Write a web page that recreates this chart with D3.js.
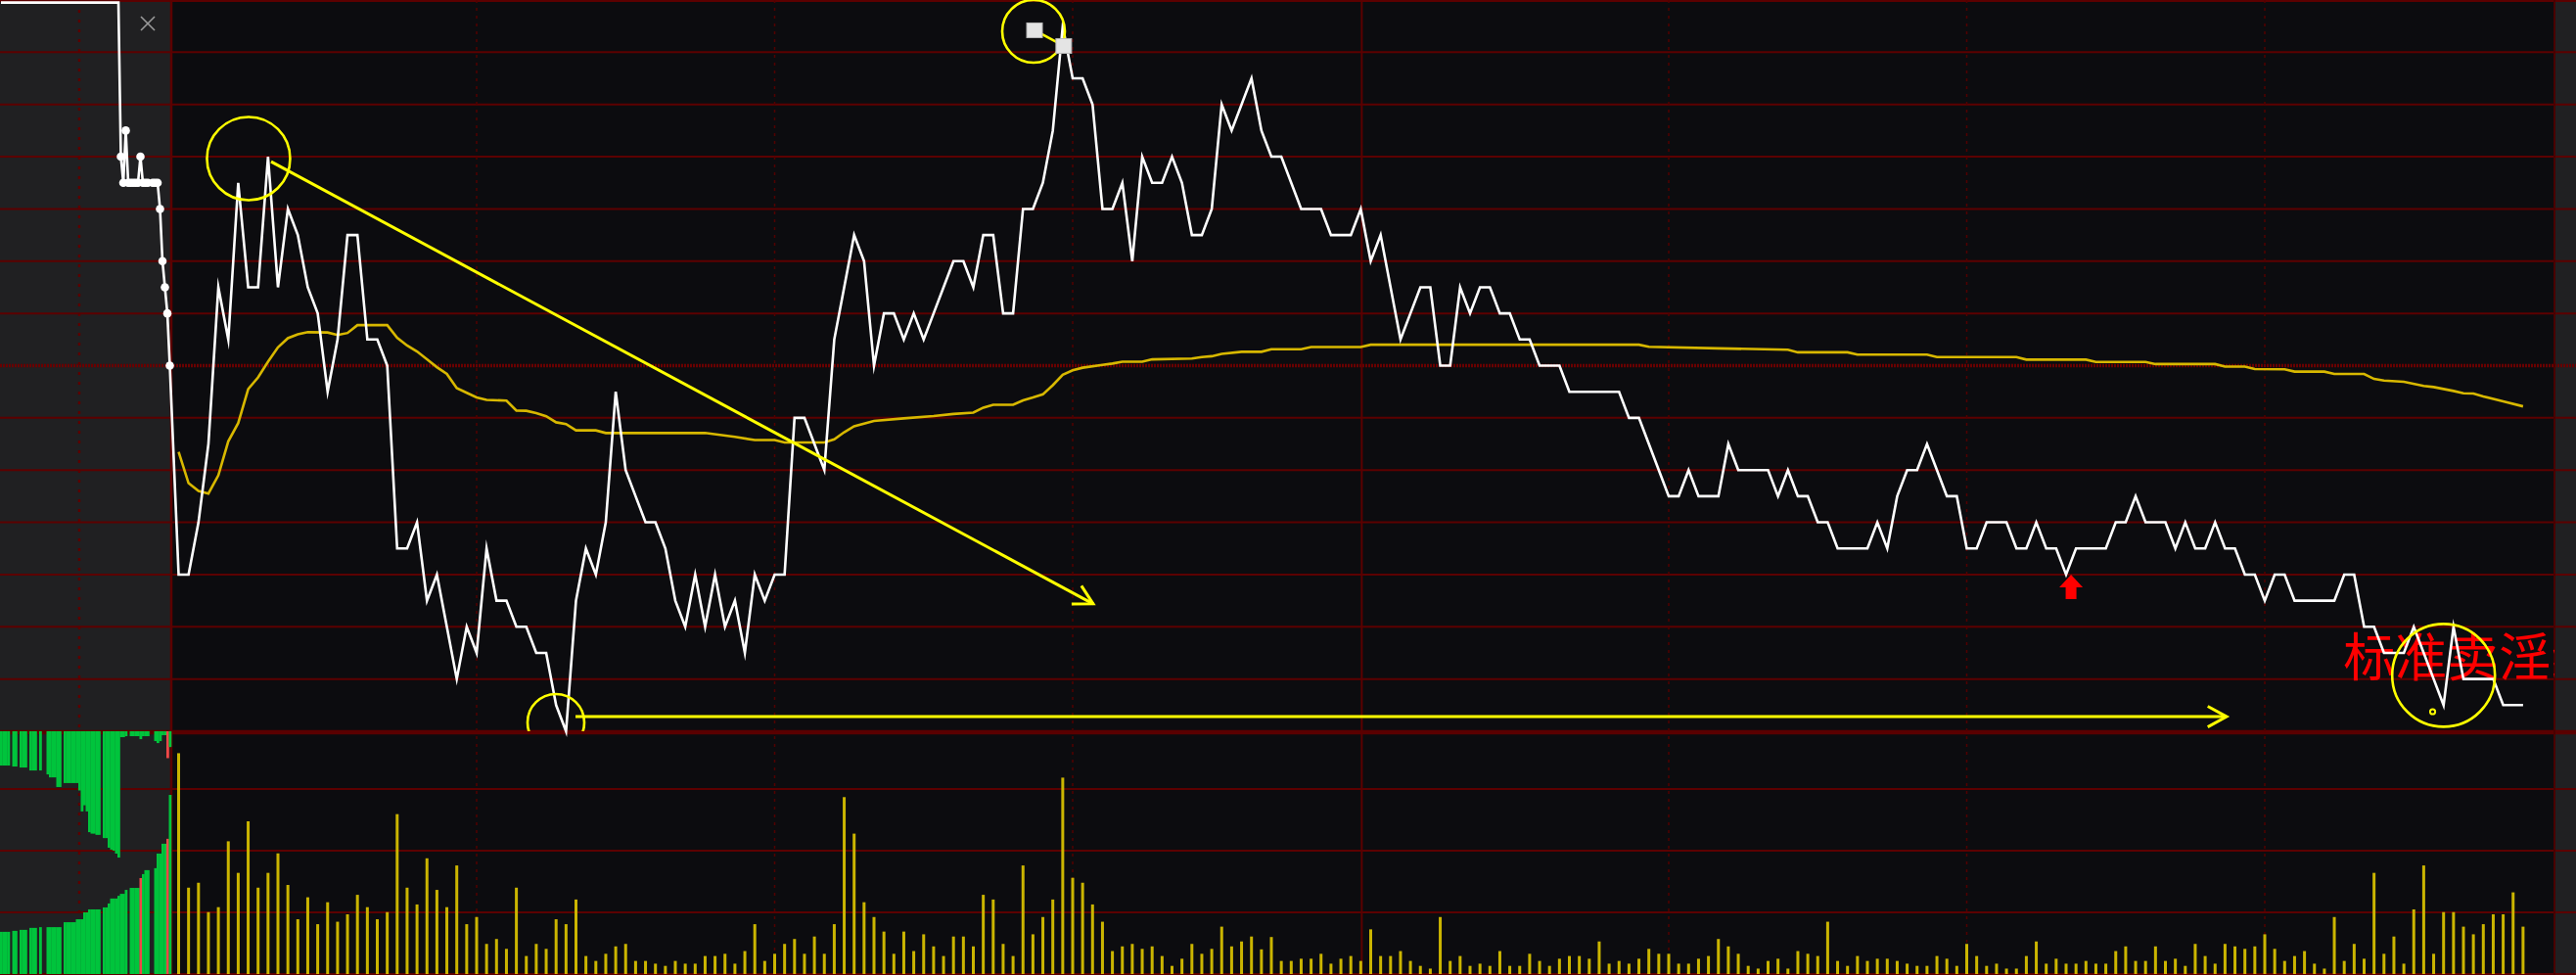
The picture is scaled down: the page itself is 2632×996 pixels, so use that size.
<!DOCTYPE html>
<html><head><meta charset="utf-8">
<script src="https://cdn.jsdelivr.net/npm/d3@7/dist/d3.min.js"></script>
<style>html,body{margin:0;padding:0;background:#0c0c0f;overflow:hidden}</style>
</head><body>
<svg id="c" width="2632" height="996"></svg>
<script>
// ---- price (ticks vs previous close), one value per minute ----
const priceTicks = [
-8,-8,-6,-3,3,1,7,3,3,8, 3,6,5,3,2,-1,1,5,5,1, 1,0,-7,-7,-6,-9,-8,-10,-12,-10,
-11,-7,-9,-9,-10,-10,-11,-11,-13,-14, -9,-7,-8,-6,-1,-4,-5,-6,-6,-7, -9,-10,-8,-10,-8,-10,-9,-11,-8,-9,
-8,-8,-2,-2,-3,-4,1,3,5,4, 0,2,2,1,2,1,2,3,4,4, 3,5,5,2,2,6,6,7,9,13,
11,11,10,6,6,7,4,8,7,7, 8,7,5,5,6,10,9,10,11,9, 8,8,7,6,6,6,5,5,5,6,
4,5,3,1,2,3,3,0,0,3, 2,3,3,2,2,1,1,0,0,0, -1,-1,-1,-1,-1,-1,-2,-2,-3,-4,
-5,-5,-4,-5,-5,-5,-3,-4,-4,-4, -4,-5,-4,-5,-5,-6,-6,-7,-7,-7, -7,-6,-7,-5,-4,-4,-3,-4,-5,-5,
-7,-7,-6,-6,-6,-7,-7,-6,-7,-7, -8,-7,-7,-7,-7,-6,-6,-5,-6,-6, -6,-7,-6,-7,-7,-6,-7,-7,-8,-8,
-9,-8,-8,-9,-9,-9,-9,-9,-8,-8, -10,-10,-11,-11,-11,-10,-11,-12,-13,-10, -12,-12,-12,-12,-13,-13,-13
];
// ---- average price line, read points (minute index, ticks) ----
const avgIdx = [0,1,2,3,4,5,6,7,8,9,10,11,12,13,15,16,17,18,21,22,23,24,25,26,27,28,29,30,31,33,34,35,36,37,38,39,40,42,43,53,56,58,60,61,65,66,67,68,70,73,76,78,80,81,82,84,85,86,87,88,89,90,91,93,94,95,97,98,102,103,104,105,107,109,110,113,114,119,120,147,148,155,162,163,168,169,176,177,185,186,192,193,198,199,205,206,208,209,212,213,216,217,220,221,222,224,226,227,229,230,231,232,234,236];
const avgVal = [-3.3,-4.5,-4.8,-4.9,-4.2,-2.9,-2.2,-0.9,-0.45,0.15,0.7,1.05,1.2,1.28,1.27,1.17,1.25,1.55,1.55,1.07,0.77,0.54,0.24,-0.06,-0.32,-0.86,-1.04,-1.22,-1.31,-1.34,-1.72,-1.73,-1.82,-1.94,-2.17,-2.24,-2.48,-2.48,-2.58,-2.58,-2.73,-2.85,-2.85,-2.94,-2.94,-2.82,-2.55,-2.32,-2.12,-2.02,-1.93,-1.85,-1.8,-1.61,-1.5,-1.5,-1.33,-1.22,-1.1,-0.75,-0.35,-0.18,-0.08,0.03,0.08,0.15,0.15,0.24,0.27,0.33,0.36,0.45,0.53,0.53,0.63,0.63,0.71,0.71,0.8,0.8,0.72,0.66,0.61,0.51,0.51,0.42,0.42,0.33,0.33,0.23,0.23,0.14,0.14,0.06,0.06,-0.04,-0.04,-0.13,-0.14,-0.23,-0.23,-0.32,-0.32,-0.51,-0.57,-0.62,-0.78,-0.82,-0.97,-1.06,-1.07,-1.18,-1.37,-1.56];
// ---- volume per minute ----
const volume = [
89.5,35,37,25.1,27.1,53.8,41,61.9,35,41, 48.9,36.1,22.2,31.1,20.2,29.1,21.2,24.2,32.1,27.1,
22.2,25.1,64.8,35,28.2,46.9,34.1,27.1,44,20.2, 23.1,12.2,14.2,10.2,35,7.3,12.2,10.2,22.2,20.2,
30.2,7.3,5.3,8.2,11.2,12.2,5.3,5.3,4.2,3.3, 5.3,4.2,4.2,7.3,7.3,8.2,4.2,9.3,20.2,5.3,
8.2,12.2,14.2,8.2,15.2,8.2,20.2,71.7,56.9,29.1, 23.1,17.2,8.2,17.2,9.3,16.1,11.2,7.3,15.2,15.2,
11.2,32.1,30.2,12.2,7.3,44,16.1,23.1,30.2,79.6, 39,37,28.2,21.2,9.3,11.2,12.2,10.2,11.2,7.3,
3.3,6.2,12.2,8.2,10.2,19.2,11.2,13.2,15.2,10, 15,5.3,5.3,6.2,6.2,8.2,4.2,6.2,7.3,5.3,
18.1,7.3,7.3,9.3,5.3,3.3,2.2,23.1,5.3,7.3, 3.3,4.2,3.3,9.3,3.3,3.3,8.2,5.3,3.3,6.2,
7.3,7.3,6.2,13.2,4.2,5.3,4.2,6.2,10.2,8.2, 8.2,4.2,4.2,6.2,7.3,14.2,11.2,8.2,3.3,2.2,
5.3,6.2,2.2,9.3,8.2,7.3,21.2,5.3,3.3,7.3, 5.3,6.2,6.2,5.3,4.2,3.3,3.3,7.3,6.2,3.3,
12.2,7.3,3.3,4.2,2.2,2.2,7.3,13.2,4.2,6.2, 4.2,4.2,5.3,4.2,4.2,9.3,11.2,5.3,5.3,11.2,
5.3,6.2,3.3,12.2,7.3,4.2,12.2,11.2,10.2,11.2, 16.1,10.2,5.3,7.3,9.3,4.2,2.2,23.1,5.3,12.2,
6.2,41,8.2,15.2,4.2,26.2,44,8.2,25.1,25.1, 19.2,16.1,20.2,24.2,24.2,33.1,19.2
];
// ---- call auction (left panel) ----
const auctionIdx   = [0,48,49,50,51,52,53,54,55,56,57,58,59,60,62,63,64,65,66,67,68,69];
const auctionPrice = [13.9,13.9,8,7,9,7,7,7,7,7,8,7,7,7,7,7,7,6,4,3,2,0];
const auctionSell = [13.9,13.9,13.9,13.9,null,14.3,14.3,null,14.7,14.7,14.7,null,15.9,15.9,15.9,null,15.9,null,null,17.5,
18.7,18.7,18.7,22.6,22.6,null,21,21,21,21,21,21,24,32.5,30,32.5,40.9,41.5,41.5,42,42,null,43.3,43.3,47.2,48,48.4,49.6,51.2,2.4,
2.4,2,null,2,2,2,2,3.2,2,2,2,null,null,4,4.8,4,1.6,1.6,10.9,6.4];
const auctionBuy = [17.1,17.1,17.1,17.1,null,17.5,17.5,null,17.9,17.9,17.9,null,18.7,18.7,18.7,null,19,null,null,19,
19,19,19,19,19,null,21,21,21,21,21,22.2,22.2,22.2,25,25,26.2,26.2,26.2,26.2,26.2,null,27,27,28.6,30.6,30.6,30.6,31.7,32.5,
32.5,34.1,null,34.9,34.9,34.9,34.9,38.9,40.5,42.1,42.1,null,null,42.9,48.8,48.8,52.8,52.8,54.8,72.6];
const auctionSellRed = [68];
const auctionBuyRed = [57,68];
// ---- grid ----
const timeGridIdx = [30,60,90,150,180,210];
const middayIdx = 119.1;
const priceGrid = [-12,-10,-8,-6,-4,-2,2,4,6,8,10,12];
const volGrid = [25,50,75];
// ---- annotation text ----
const noteText = "标准卖淫线";

const svg = d3.select("#c");
const W = 2632, H = 996;
const plotL = 175, plotR = 2610, pBot = 747, vTop = 748, vBot = 995;
const x = d3.scaleLinear().domain([0,240]).range([182.5, 2618.5]);
const y = d3.scaleLinear().domain([-14,14]).range([pBot, 0]);
const yv = d3.scaleLinear().domain([0,98]).range([vBot, vTop]);
const xa = d3.scaleLinear().domain([0,70]).range([0, plotL]);

const GRID = "#5c0000";
svg.append("rect").attr("width",W).attr("height",H).attr("fill","#0c0c0f");
svg.append("rect").attr("width",plotL).attr("height",H).attr("fill","#202022");
svg.append("rect").attr("x",plotR).attr("width",W-plotR).attr("height",H).attr("fill","#202022");

const defs = svg.append("defs");
defs.append("clipPath").attr("id","pc").append("rect").attr("x",plotL).attr("y",0).attr("width",plotR-plotL).attr("height",pBot);

const g = svg.append("g");
// horizontal grid
g.selectAll(".hg").data(priceGrid).enter().append("line")
 .attr("x1",0).attr("x2",W).attr("y1",d=>y(d)).attr("y2",d=>y(d))
 .attr("stroke",GRID).attr("stroke-width",2);
g.append("line").attr("x1",0).attr("x2",W).attr("y1",y(0)).attr("y2",y(0))
 .attr("stroke","#6a0000").attr("stroke-width",3.5).attr("stroke-dasharray","2,1");
g.append("line").attr("x1",0).attr("x2",W).attr("y1",1).attr("y2",1).attr("stroke",GRID).attr("stroke-width",2);
g.append("line").attr("x1",0).attr("x2",W).attr("y1",vTop).attr("y2",vTop).attr("stroke","#5a0000").attr("stroke-width",4.5);
g.selectAll(".vg").data(volGrid).enter().append("line")
 .attr("x1",0).attr("x2",W).attr("y1",d=>yv(d)).attr("y2",d=>yv(d))
 .attr("stroke",GRID).attr("stroke-width",2);
g.append("line").attr("x1",0).attr("x2",W).attr("y1",vBot).attr("y2",vBot).attr("stroke",GRID).attr("stroke-width",2);
// vertical grid
g.selectAll(".tg").data(timeGridIdx).enter().append("line")
 .attr("x1",d=>x(d)).attr("x2",d=>x(d)).attr("y1",0).attr("y2",H)
 .attr("stroke","#520000").attr("stroke-width",1.5).attr("stroke-dasharray","3,5");
g.append("line").attr("x1",x(middayIdx)).attr("x2",x(middayIdx)).attr("y1",0).attr("y2",H).attr("stroke",GRID).attr("stroke-width",2);
g.append("line").attr("x1",81).attr("x2",81).attr("y1",0).attr("y2",H).attr("stroke","#5a0000").attr("stroke-width",2.5).attr("stroke-dasharray","3,7");
g.append("line").attr("x1",plotL).attr("x2",plotL).attr("y1",0).attr("y2",H).attr("stroke",GRID).attr("stroke-width",2.5);
g.append("line").attr("x1",plotR).attr("x2",plotR).attr("y1",0).attr("y2",H).attr("stroke","#4a0000").attr("stroke-width",2);

// close icon
const ic = svg.append("g").attr("stroke","#9a9a9a").attr("stroke-width",1.6);
ic.append("line").attr("x1",144).attr("y1",17).attr("x2",158).attr("y2",31);
ic.append("line").attr("x1",158).attr("y1",17).attr("x2",144).attr("y2",31);

// auction bars
const aw = xa(1)-xa(0);
const sellD = auctionSell.map((v,i)=>({i,v})).filter(d=>d.v!=null);
svg.append("g").selectAll("rect").data(sellD).enter().append("rect")
 .attr("x",d=>xa(d.i)).attr("width",aw+0.3).attr("y",vTop-1)
 .attr("height",d=>yv(0)-yv(d.v))
 .attr("fill",d=>auctionSellRed.includes(d.i)?"#f04848":"#00c43c");
const buyD = auctionBuy.map((v,i)=>({i,v})).filter(d=>d.v!=null);
svg.append("g").selectAll("rect").data(buyD).enter().append("rect")
 .attr("x",d=>xa(d.i)).attr("width",aw+0.3).attr("y",d=>yv(d.v))
 .attr("height",d=>vBot-yv(d.v))
 .attr("fill",d=>auctionBuyRed.includes(d.i)?"#f04848":"#00c43c");

// volume bars
svg.append("g").selectAll("rect").data(volume).enter().append("rect")
 .attr("x",(d,i)=>x(i)-1.5).attr("width",3).attr("y",d=>yv(d)).attr("height",d=>vBot-yv(d))
 .attr("fill","#cbb500");

// red label (below lines)
const pg = svg.append("g").attr("clip-path","url(#pc)");
pg.append("text").attr("x",x(218)-1).attr("y",y(-11.9))
 .attr("font-family","'Noto Sans CJK SC','Noto Sans',sans-serif").attr("font-size",53)
 .attr("fill","#ff0000").text(noteText);

// average line
const avgPts = avgIdx.map((d,k)=>[x(d), y(avgVal[k])]);
svg.append("path").attr("d",d3.line()(avgPts)).attr("fill","none")
 .attr("stroke","#d8b800").attr("stroke-width",2.6);

// price line (auction + continuous)
const aPts = auctionIdx.map((d,k)=>[xa(d)+1, y(auctionPrice[k])]);
const mPts = priceTicks.map((t,i)=>[x(i), y(t)]);
svg.append("path").attr("d",d3.line()(aPts.concat(mPts))).attr("fill","none")
 .attr("stroke","#ffffff").attr("stroke-width",2.6).attr("stroke-linejoin","miter").attr("stroke-miterlimit",8);
svg.append("g").selectAll("circle").data(aPts.slice(2)).enter().append("circle")
 .attr("cx",d=>d[0]).attr("cy",d=>d[1]).attr("r",4.3).attr("fill","#ffffff");

// yellow annotations
const Y = "#ffff00";
const ag = svg.append("g").attr("clip-path","url(#pc)").attr("fill","none").attr("stroke",Y).attr("stroke-width",2.6);
const circ = (i,t,r,w)=>ag.append("circle").attr("cx",x(i)).attr("cy",y(t)).attr("r",r).attr("stroke-width",w||2.6);
circ(7.04,7.93,42.5);
circ(37.98,-13.66,29);
circ(86.06,12.8,32);
circ(228.0,-11.86,52.5);
circ(226.9,-13.25,2.6,2);
function arrow(i0,t0,i1,t1){
  const x0=x(i0),y0=y(t0),x1=x(i1),y1=y(t1);
  ag.append("line").attr("x1",x0).attr("y1",y0).attr("x2",x1).attr("y2",y1).attr("stroke-width",3);
  const a=Math.atan2(y0-y1,x0-x1), L=22, s=0.5;
  const p=[[x1+L*Math.cos(a+s),y1+L*Math.sin(a+s)],[x1,y1],[x1+L*Math.cos(a-s),y1+L*Math.sin(a-s)]];
  ag.append("path").attr("d",d3.line()(p)).attr("stroke-width",3);
}
arrow(9.31,7.81,92.06,-9.12);
arrow(39.95,-13.44,206.16,-13.44);
// selected short segment with handles
ag.append("line").attr("x1",x(86.16)).attr("y1",y(12.84)).attr("x2",x(89.1)).attr("y2",y(12.24)).attr("stroke-width",2.6);
svg.append("g").selectAll("rect").data([[86.16,12.84],[89.1,12.24]]).enter().append("rect")
 .attr("x",d=>x(d[0])-8).attr("y",d=>y(d[1])-7.5).attr("width",16).attr("height",15)
 .attr("fill","#e4e4e4").attr("stroke","#b8b8b8").attr("stroke-width",1);

// red up arrow
const ax = x(190.5), ay = y(-8);
svg.append("path").attr("fill","#ff0000")
 .attr("d",`M${ax},${ay} L${ax+12},${ay+13} L${ax+5.5},${ay+13} L${ax+5.5},${ay+25} L${ax-5.5},${ay+25} L${ax-5.5},${ay+13} L${ax-12},${ay+13} Z`);
</script>
</body></html>
